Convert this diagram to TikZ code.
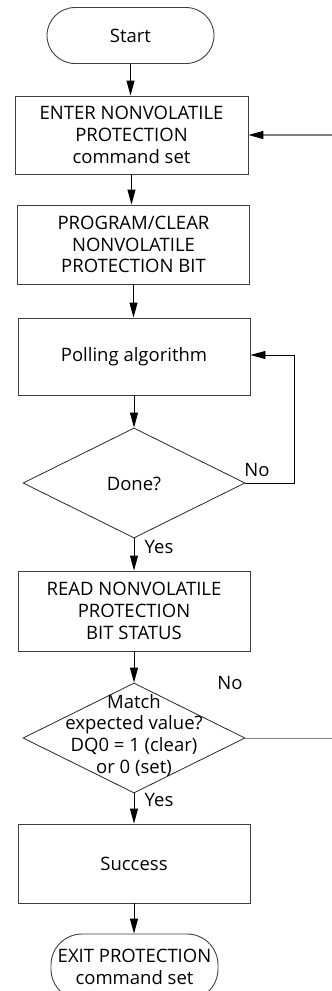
\documentclass[tikz,border=0pt]{standalone}
\usepackage{fontspec}
\setmainfont{Open Sans}
\usetikzlibrary{shapes.geometric,arrows.meta}
\begin{document}
\begin{tikzpicture}[x=1pt,y=-1pt,
 every node/.style={font=\fontsize{18.5}{21.7}\selectfont, align=center, inner sep=0pt},
 box/.style={draw=black!75, line width=0.9pt, minimum width=232pt, minimum height=79pt},
 term/.style={draw=black!75, line width=0.9pt, rounded corners=28pt, minimum width=167pt, minimum height=56pt},
 dia/.style={draw=black!85, line width=0.8pt, diamond, minimum width=222pt, minimum height=110pt},
 flow/.style={draw=black, line width=0.9pt, -{Triangle[length=15pt,width=8pt]}},
 back/.style={draw=black!50, line width=1.3pt},
 lab/.style={font=\fontsize{18.5}{21}\selectfont}]
\useasboundingbox (0,0) rectangle (332,991);
\node[term] (start) at (130.5,35.5) {Start};
\node[box, minimum width=233pt, minimum height=78pt] (b1) at (131.5,135) {ENTER NONVOLATILE\\PROTECTION\\command set};
\node[box] (b2) at (133.5,244.5) {PROGRAM/CLEAR\\NONVOLATILE\\PROTECTION BIT};
\node[box, minimum height=77pt] (b3) at (134,356.5) {Polling algorithm};
\node[dia] (d1) at (134,483) {};
\node (t1) at (134,484) {Done?};
\node[box, minimum height=80pt] (b4) at (134,611) {READ NONVOLATILE\\PROTECTION\\BIT STATUS};
\node[dia] (d2) at (134,738) {};
\node (t2) at (134,735) {Match\\expected value?\\DQ0 = 1 (clear)\\or 0 (set)};
\node[box] (b5) at (134,863.5) {Success};
\node[term, minimum height=66pt, rounded corners=31pt] (end) at (134.5,967) {EXIT PROTECTION\\command set};

\draw[flow] (start.south) -- (start.south |- b1.north);
\draw[flow] (b1.south) -- (b1.south |- b2.north);
\draw[flow] (b2.south) -- (b2.south |- b3.north);
\draw[flow] (b3.south) -- (d1.north);
\draw[flow] (d1.south) -- (b4.north);
\draw[flow] (b4.south) -- (d2.north);
\draw[flow] (d2.south) -- (b5.north);
\draw[flow] (b5.south) -- (b5.south |- end.north);

\coordinate (c1) at (294,355);
\draw[flow, line width=0.8pt] (d1.east) -| (c1) -- (c1 -| b3.east);

\coordinate (e1) at (332,738);
\coordinate (e2) at (332,135);
\draw[back, line width=1pt] (d2.east) -- (e1);
\draw[back, -{Triangle[length=15pt,width=8pt,color=black]}] (e2) -- (b1.east);

\node[lab] (no1) at (257,470) {No};
\node[lab] (yes1) at (159,547) {Yes};
\node[lab] (no2) at (230,683) {No};
\node[lab] (yes2) at (159,800) {Yes};
\end{tikzpicture}
\end{document}
